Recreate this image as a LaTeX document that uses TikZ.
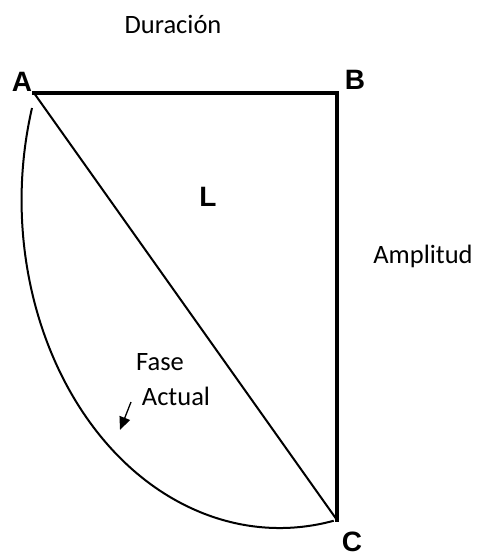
\documentclass[tikz,border=0pt]{standalone}
\usepackage{fontspec}
\setmainfont{Carlito}
\newfontfamily\arialfont{Liberation Sans}
\usetikzlibrary{arrows.meta,positioning}

\begin{document}
\begin{tikzpicture}[
  x=1pt,y=-1pt,
  corner/.style={font=\arialfont\bfseries\fontsize{28}{30}\selectfont,inner sep=0pt,anchor=base},
  label/.style={font=\fontsize{26.5}{30}\selectfont,inner sep=0pt,anchor=base},
  side/.style={line width=4pt},
  thin/.style={line width=2pt},
  arrow/.style={-{Triangle[length=13pt,width=11pt]},line width=1.3pt}
]
\useasboundingbox (0,0) rectangle (476,556);
\coordinate (a) at (34,93);
\coordinate (b) at (337,93);
\coordinate (c) at (337,520);
\coordinate (arcstart) at (32,108);
\coordinate (tail) at (131,402);
\coordinate (tip) at (120,430);
\node[corner] (A) at (22,92) {A};
\node[corner] (B) at (355,90) {B};
\node[corner] (C) at (352,551) {C};
\node[corner] (L) at (208,206) {L};
\node[label] (duracion) at (173,34) {Duración};
\node[label] (amplitud) at (423,263) {Amplitud};
\node[label] (fase) at (160,370) {Fase};
\node[label] (actual) at (176,405) {Actual};
\draw[side,line cap=rect] (a) -- (b) -- (c);
\draw[thin] (a) -- (c);
% quarter ellipse for the current phase
\draw[thin] (arcstart) arc[start angle=196.3,end angle=77.9,x radius=258,y radius=328];
\draw[arrow] (tail) -- (tip);
\end{tikzpicture}
\end{document}
